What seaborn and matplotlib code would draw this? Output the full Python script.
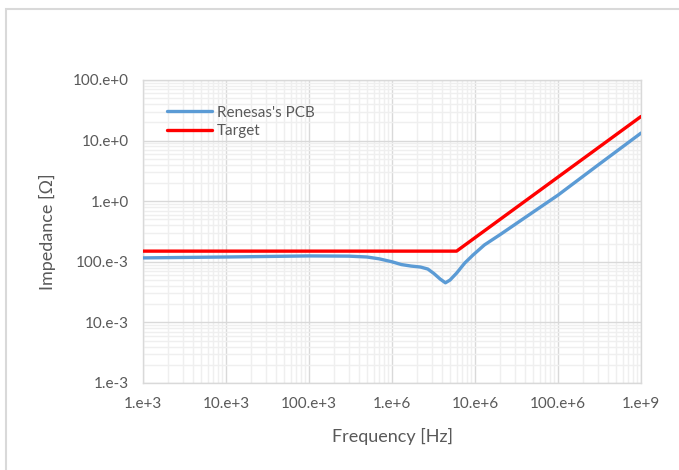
import numpy as np
import pandas as pd
import matplotlib
matplotlib.use("Agg")
import matplotlib.pyplot as plt
import seaborn as sns
from matplotlib.patches import Rectangle
from matplotlib.ticker import LogLocator, NullFormatter

# values
pcb_freq = [1e3, 1e4, 1e5, 3e5, 5e5, 7e5, 1e6, 1.3e6, 1.7e6, 2.2e6, 2.7e6, 3.2e6,
            3.8e6, 4.4e6, 5.0e6, 6e6, 7.5e6, 9.5e6, 1.3e7, 2e7, 5e7, 1e8, 3e8, 1e9]
pcb_z = [0.116, 0.12, 0.125, 0.124, 0.12, 0.112, 0.1, 0.09, 0.085, 0.082, 0.076, 0.064,
         0.052, 0.045, 0.05, 0.065, 0.095, 0.13, 0.19, 0.28, 0.66, 1.26, 3.9, 13.3]

target_freq = [1e3, 6e6, 1e9]
target_z = [0.15, 0.15, 25.0]

x_ticks = [1e3, 1e4, 1e5, 1e6, 1e7, 1e8, 1e9]
x_labels = ["1.e+3", "10.e+3", "100.e+3", "1.e+6", "10.e+6", "100.e+6", "1.e+9"]
y_ticks = [1e-3, 1e-2, 1e-1, 1e0, 1e1, 1e2]
y_labels = ["1.e-3", "10.e-3", "100.e-3", "1.e+0", "10.e+0", "100.e+0"]

pcb = pd.DataFrame({"f": pcb_freq, "z": pcb_z, "s": "Renesas's PCB"})
target = pd.DataFrame({"f": target_freq, "z": target_z, "s": "Target"})
df = pd.concat([pcb, target], ignore_index=True)

sns.set_style("white")
plt.rcParams["font.family"] = ["Lato", "DejaVu Sans"]
txt = "#595959"

fig = plt.figure(figsize=(6.79, 4.7), dpi=100)
ax = fig.add_axes([143 / 679, 87 / 470, 498 / 679, 303 / 470])

sns.lineplot(data=df, x="f", y="z", hue="s", sort=False,
             palette={"Renesas's PCB": "#5B9BD5", "Target": "#FF0000"},
             linewidth=2.4, ax=ax, zorder=3)

ax.set_xscale("log")
ax.set_yscale("log")
ax.set_xlim(1e3, 1e9)
ax.set_ylim(1e-3, 1e2)

ax.set_xticks(x_ticks)
ax.set_xticklabels(x_labels)
ax.set_yticks(y_ticks)
ax.set_yticklabels(y_labels)
ax.xaxis.set_minor_locator(LogLocator(base=10, subs=np.arange(2, 10), numticks=20))
ax.yaxis.set_minor_locator(LogLocator(base=10, subs=np.arange(2, 10), numticks=20))
ax.xaxis.set_minor_formatter(NullFormatter())
ax.yaxis.set_minor_formatter(NullFormatter())
ax.tick_params(which="both", length=0, labelsize=11, labelcolor=txt, pad=10)

ax.grid(which="major", color="#D9D9D9", linewidth=1.0)
ax.grid(which="minor", color="#EFEFEF", linewidth=1.0)
ax.set_axisbelow(True)
for sp in ax.spines.values():
    sp.set_color("#D9D9D9")
    sp.set_linewidth(1.0)

ax.set_xlabel("Frequency [Hz]", fontsize=13, color=txt, labelpad=12)
ax.set_ylabel("Impedance [Ω]", fontsize=13, color=txt, labelpad=12)

leg = ax.legend(loc="upper left", bbox_to_anchor=(0.035, 0.935), frameon=False,
                fontsize=11, handlelength=3.0, handletextpad=0.3,
                labelspacing=0.3, borderaxespad=0)
for t in leg.get_texts():
    t.set_color(txt)
for l in leg.get_lines():
    l.set_linewidth(2.4)

# outer chart border
fig.patches.append(Rectangle((6 / 679, -0.1), 1.2, 1 - 9 / 470 + 0.1,
                             transform=fig.transFigure, fill=False,
                             edgecolor="#D9D9D9", linewidth=1.5))

fig.savefig("out.png", dpi=100)
